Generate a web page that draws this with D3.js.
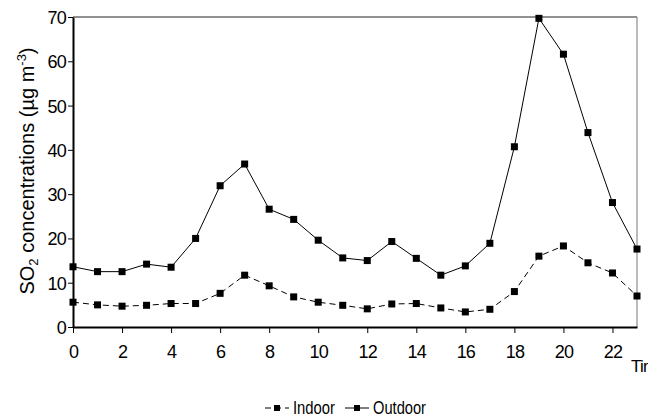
<!DOCTYPE html>
<html>
<head>
<meta charset="utf-8">
<script src="https://cdn.jsdelivr.net/npm/d3@7"></script>
<style>
  body { margin: 0; background: #fff; }
  text { font-family: "Liberation Sans", Arial, sans-serif; fill: #000; }
</style>
</head>
<body>
<div class="chart"></div>
<script>
var svgWidth = 661;
var svgHeight = 417;

var margin = { top: 17, right: 24, bottom: 90, left: 73 };
var width = svgWidth - margin.left - margin.right;
var height = svgHeight - margin.top - margin.bottom;

// data
var hours = [0, 1, 2, 3, 4, 5, 6, 7, 8, 9, 10, 11, 12, 13, 14, 15, 16, 17, 18, 19, 20, 21, 22, 23];
var indoor = [5.6, 5.0, 4.7, 4.9, 5.3, 5.3, 7.6, 11.7, 9.3, 6.8, 5.6, 4.9,
  4.1, 5.2, 5.3, 4.3, 3.4, 4.0, 8.0, 16.0, 18.3, 14.5, 12.2, 7.0];
var outdoor = [13.6, 12.5, 12.5, 14.2, 13.5, 20.0, 31.9, 36.8, 26.6, 24.3, 19.6, 15.6,
  15.0, 19.3, 15.5, 11.7, 13.8, 18.9, 40.7, 69.7, 61.6, 43.9, 28.1, 17.6];
var xTicks = [0, 2, 4, 6, 8, 10, 12, 14, 16, 18, 20, 22];
var yTicks = [0, 10, 20, 30, 40, 50, 60, 70];
var seriesNames = ["Indoor", "Outdoor"];

var svg = d3.select(".chart")
  .append("svg")
  .attr("width", svgWidth)
  .attr("height", svgHeight);

var chartGroup = svg.append("g")
  .attr("transform", `translate(${margin.left}, ${margin.top})`);

var xScale = d3.scaleLinear().domain([0, 23]).range([0, width]);
var yScale = d3.scaleLinear().domain([0, 70]).range([height, 0]);

// plot frame (top and right)
chartGroup.append("line")
  .attr("x1", 0).attr("x2", width).attr("y1", 0).attr("y2", 0)
  .attr("stroke", "#222").attr("stroke-width", 1);
chartGroup.append("line")
  .attr("x1", width).attr("x2", width).attr("y1", 0).attr("y2", height)
  .attr("stroke", "#777").attr("stroke-width", 1);

// axes
var bottomAxis = d3.axisBottom(xScale).tickValues(xTicks).tickSize(6).tickSizeOuter(0).tickPadding(12);
var leftAxis = d3.axisLeft(yScale).tickValues(yTicks).tickSize(5).tickSizeOuter(0).tickPadding(2);

var xAxis = chartGroup.append("g")
  .attr("transform", `translate(0, ${height})`)
  .call(bottomAxis);
var yAxis = chartGroup.append("g").call(leftAxis);

[xAxis, yAxis].forEach(function(ax) {
  ax.select(".domain").attr("stroke", "#000").attr("stroke-width", 2);
  ax.selectAll(".tick line").attr("stroke", "#000");
  ax.selectAll(".tick text")
    .style("font-family", "'Liberation Sans', Arial, sans-serif")
    .style("font-size", "18px")
    .style("letter-spacing", "-0.8px")
    .attr("fill", "#000");
});
yAxis.selectAll(".tick text").attr("dy", "0.36em");

// x label "Time", cut at the edge as in the source
svg.append("clipPath").attr("id", "edge")
  .append("rect").attr("x", 0).attr("y", 0).attr("width", 648).attr("height", svgHeight);
svg.append("text")
  .attr("clip-path", "url(#edge)")
  .attr("x", 631)
  .attr("y", 372)
  .style("font-size", "17px")
  .style("letter-spacing", "-0.8px")
  .text("Time");

// y axis title
var yTitle = svg.append("text")
  .attr("transform", "rotate(-90)")
  .attr("x", -(margin.top + height / 2) + 1)
  .attr("y", 34)
  .attr("text-anchor", "middle")
  .style("font-size", "20px");
yTitle.append("tspan").text("SO");
yTitle.append("tspan").attr("dy", 4).style("font-size", "13px").text("2");
yTitle.append("tspan").attr("dy", -4).text(" concentrations (µg m");
yTitle.append("tspan").attr("dy", -8).style("font-size", "13px").text("-3");
yTitle.append("tspan").attr("dy", 8).text(")");

// lines and markers
var line = d3.line()
  .x(function(d, i) { return xScale(hours[i]); })
  .y(function(d) { return yScale(d); });

var allSeries = [
  { name: seriesNames[0], values: indoor, dash: "6,4" },
  { name: seriesNames[1], values: outdoor, dash: null }
];

allSeries.forEach(function(s) {
  chartGroup.append("path")
    .datum(s.values)
    .attr("d", line)
    .attr("fill", "none")
    .attr("stroke", "#000")
    .attr("stroke-width", 1)
    .attr("stroke-dasharray", s.dash);

  chartGroup.selectAll(null)
    .data(s.values)
    .enter()
    .append("rect")
    .attr("x", function(d, i) { return xScale(hours[i]) - 3.5; })
    .attr("y", function(d) { return yScale(d) - 3.5; })
    .attr("width", 7)
    .attr("height", 7)
    .attr("fill", "#000");
});

// legend
var legend = svg.append("g").attr("transform", "translate(265, 408)");
var legendX = [0, 80];
var textLen = [42, 53];
allSeries.forEach(function(s, i) {
  var g = legend.append("g").attr("transform", `translate(${legendX[i]}, 0)`);
  g.append("line")
    .attr("x1", 0).attr("x2", 24).attr("y1", 0).attr("y2", 0)
    .attr("stroke", "#000")
    .attr("stroke-dasharray", s.dash);
  g.append("rect")
    .attr("x", 9).attr("y", -3).attr("width", 6).attr("height", 6)
    .attr("fill", "#000");
  g.append("text")
    .attr("x", 28)
    .attr("y", 6)
    .attr("textLength", textLen[i])
    .attr("lengthAdjust", "spacingAndGlyphs")
    .style("font-size", "18px")
    .text(s.name);
});
</script>
</body>
</html>
